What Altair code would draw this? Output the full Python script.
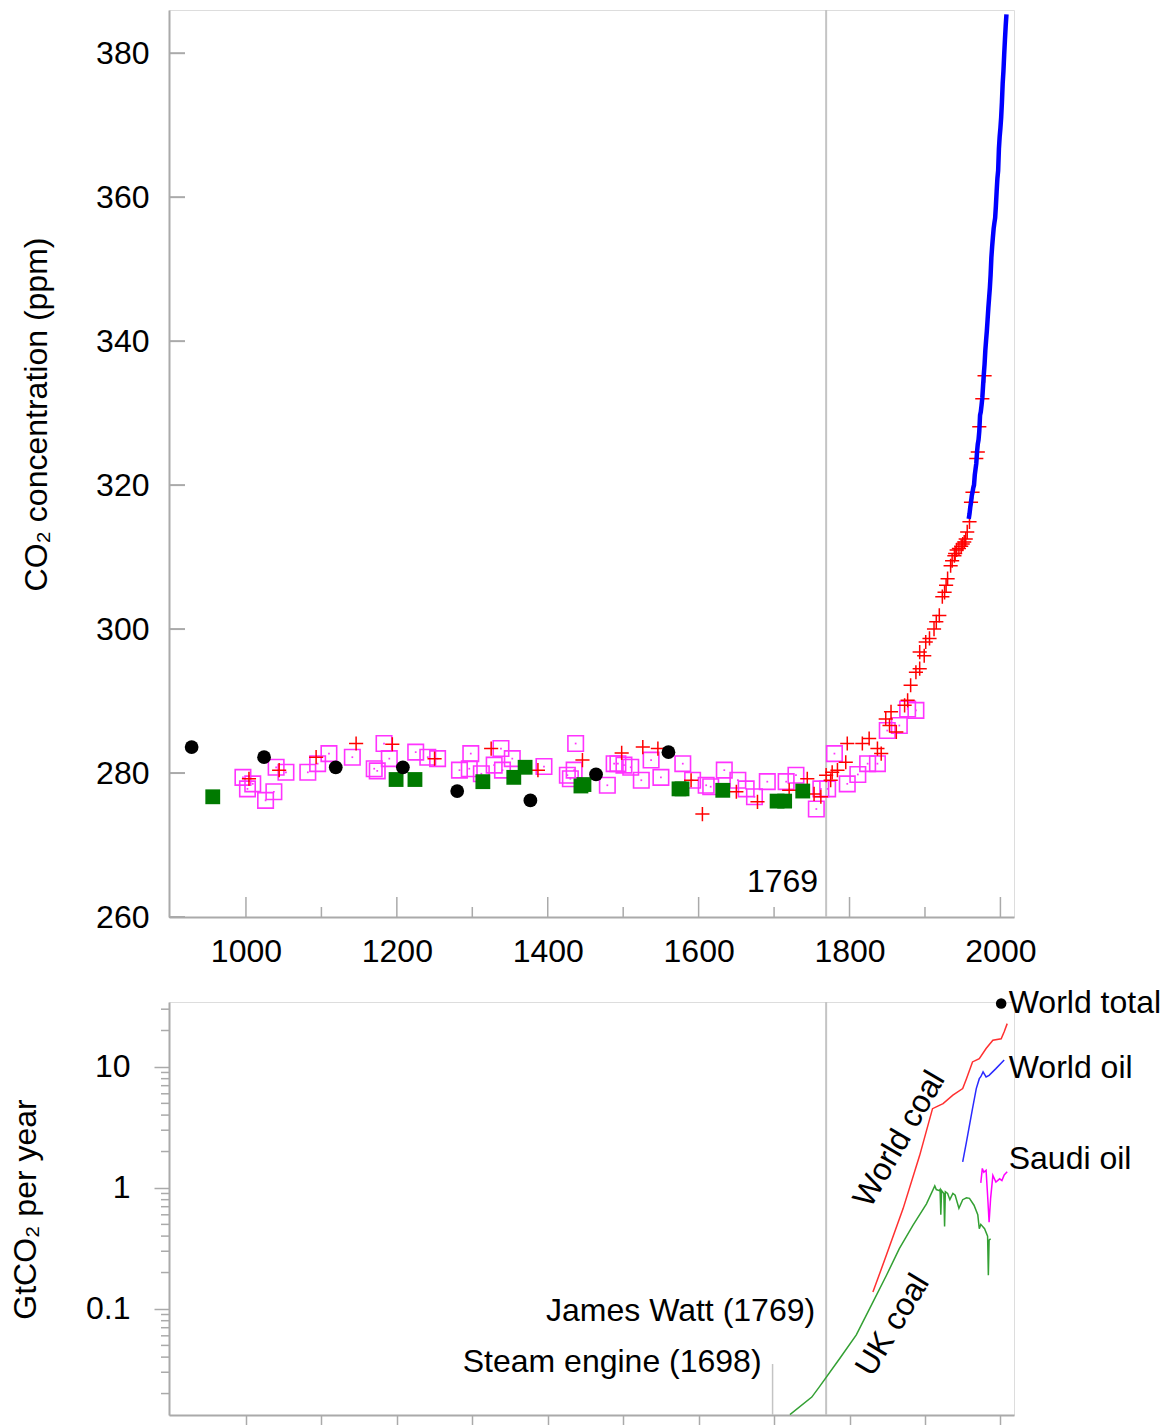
import altair as alt
import pandas as pd

FONT = "Liberation Sans"
AX = "#aaaaaa"
FS = 32

# ---------------- Top panel: CO2 concentration (ppm) ----------------
dome_years = [928, 1024, 1119, 1208, 1280, 1377, 1464, 1560]
dome_ppm = [283.6, 282.2, 280.8, 280.8, 277.5, 276.2, 279.8, 282.9]

green_years = [956, 1199, 1224, 1314, 1355, 1370, 1444, 1448, 1574, 1578, 1632, 1704, 1714, 1738]
green_ppm = [276.7, 279.1, 279.1, 278.8, 279.4, 280.8, 278.2, 278.4, 277.8, 277.8, 277.6, 276.1, 276.1, 277.5]

mag_years = [996, 1002, 1009, 1026, 1037, 1040, 1053, 1082, 1095, 1110, 1141, 1170, 1174, 1183, 1190,
             1225, 1241, 1254, 1283, 1296, 1298, 1312, 1329, 1338, 1340, 1353, 1395, 1426, 1430, 1435,
             1437, 1479, 1488, 1493, 1501, 1510, 1524, 1537, 1550, 1579, 1592, 1610, 1616, 1634, 1652,
             1663, 1674, 1691, 1716, 1729, 1756, 1762, 1771, 1780, 1797, 1811, 1824, 1837, 1850, 1866,
             1877, 1888]
mag_ppm = [279.4, 277.8, 278.5, 276.2, 277.4, 280.8, 280.1, 280.1, 281.3, 282.7, 282.2, 280.6, 280.3, 284.1, 282.0,
           282.9, 282.2, 282.0, 280.4, 280.6, 282.7, 279.9, 281.1, 283.4, 280.4, 282.0, 280.9, 279.7, 279.2, 280.4,
           284.1, 278.3, 281.3, 281.3, 281.1, 280.8, 279.0, 281.8, 279.4, 281.3, 279.0, 278.3, 278.1, 280.4, 279.0,
           277.8, 276.7, 278.8, 278.8, 279.7, 275.0, 277.8, 277.8, 282.7, 278.5, 279.8, 281.3, 281.3, 285.9, 286.6,
           288.9, 288.7]

red_years = [1004, 1044, 1093, 1146, 1194, 1250, 1325, 1387, 1446, 1498, 1526, 1546, 1590, 1605, 1650,
             1678, 1720, 1744, 1753, 1762, 1769, 1775, 1777, 1784, 1795, 1797, 1817, 1826, 1837, 1842,
             1848, 1853, 1855, 1862, 1873, 1877, 1881, 1888, 1893, 1893, 1899, 1901, 1906, 1912, 1915,
             1919, 1923, 1926, 1928, 1930, 1934, 1936, 1939, 1940, 1942, 1945, 1948, 1950, 1952, 1954,
             1956, 1959, 1961, 1963, 1968, 1970, 1972, 1976, 1979]
red_ppm = [279.2, 280.4, 282.2, 284.1, 284.0, 282.0, 283.4, 280.4, 281.8, 282.8, 283.6, 283.4, 279.0, 274.3, 277.4,
           276.0, 277.6, 279.2, 277.1, 276.7, 279.7, 279.0, 280.1, 280.4, 281.5, 284.1, 284.1, 284.8, 283.4, 282.7,
           287.5, 286.6, 288.5, 285.7, 289.4, 290.1, 292.2, 294.0, 294.5, 296.8, 296.3, 298.2, 298.7, 300.0, 301.0,
           301.9, 304.5, 305.1, 306.1, 307.0, 308.8, 309.5, 310.2, 310.5, 311.0, 311.2, 311.5, 311.8, 312.1, 312.5,
           313.5, 314.9, 317.6, 319.0, 323.7, 324.6, 328.1, 332.0, 335.2]

mlo_years = [1958, 1959, 1960, 1961, 1962, 1963, 1964, 1965, 1966, 1967,
             1968, 1969, 1970, 1971, 1972, 1973, 1974, 1975, 1976, 1977,
             1978, 1979, 1980, 1981, 1982, 1983, 1984, 1985, 1986, 1987,
             1988, 1989, 1990, 1991, 1992, 1993, 1994, 1995, 1996, 1997,
             1998, 1999, 2000, 2001, 2002, 2003, 2004, 2005, 2006, 2007, 2008]
mlo_ppm = [315.3, 316.0, 316.9, 317.6, 318.5, 319.0, 319.6, 320.0, 321.4, 322.2,
           323.0, 324.6, 325.7, 326.3, 327.5, 329.7, 330.2, 331.1, 332.1, 333.8,
           335.4, 336.8, 338.7, 340.1, 341.4, 343.0, 344.6, 346.0, 347.4, 349.2,
           351.6, 353.1, 354.4, 355.6, 356.4, 357.1, 358.8, 360.8, 362.6, 363.7,
           366.7, 368.4, 369.6, 371.1, 373.2, 375.8, 377.5, 379.8, 381.9, 383.8, 385.4]

top_xticks_major = [1000, 1200, 1400, 1600, 1800, 2000]
top_xticks_minor = [1100, 1300, 1500, 1700, 1900]
top_yticks = [260, 280, 300, 320, 340, 360, 380]
watt_year = [1769]
top_note_text = ["1769"]
top_note_ppm = [264.9]

# ---------------- Bottom panel: GtCO2 per year (log) ----------------
uk_years = [1721, 1750, 1760, 1787, 1809, 1831, 1849, 1866, 1884, 1902, 1913, 1915, 1919, 1920, 1921,
            1922, 1925, 1926, 1927, 1930, 1933, 1937, 1940, 1945, 1950, 1955, 1959, 1965, 1970, 1972,
            1974, 1979, 1983, 1984, 1985, 1987]
uk_val = [0.0134, 0.0187, 0.0227, 0.039, 0.061, 0.114, 0.19, 0.315, 0.49, 0.74, 1.04, 0.97, 0.95, 0.97, 0.60,
          0.95, 0.90, 0.48, 0.93, 0.90, 0.80, 0.90, 0.87, 0.68, 0.80, 0.83, 0.82, 0.72, 0.60, 0.46,
          0.50, 0.46, 0.40, 0.19, 0.37, 0.38]

wcoal_years = [1831, 1849, 1871, 1893, 1910, 1917, 1924, 1937, 1950, 1955, 1963, 1972, 1981, 1990, 2001, 2005, 2009]
wcoal_val = [0.138, 0.28, 0.675, 1.86, 4.52, 4.75, 4.97, 5.84, 6.62, 8.0, 11.0, 11.7, 14.2, 16.6, 17.1, 19.5, 22.8]

woil_years = [1950, 1955, 1963, 1968, 1972, 1974, 1977, 1981, 1985, 1994, 2005]
woil_val = [1.64, 2.4, 4.52, 6.62, 8.0, 8.3, 9.1, 8.27, 8.52, 9.68, 11.4]

saudi_years = [1974, 1976, 1978, 1981, 1983, 1985, 1987, 1990, 1994, 1999, 2002, 2005, 2009]
saudi_val = [1.1, 1.45, 1.35, 1.4, 0.87, 0.52, 0.82, 1.27, 1.12, 1.19, 1.15, 1.28, 1.36]

total_year = [2001]
total_val = [33.4]

bot_minor_ticks = [0.02, 0.03, 0.04, 0.05, 0.06, 0.07, 0.08, 0.09,
                   0.2, 0.3, 0.4, 0.5, 0.6, 0.7, 0.8, 0.9,
                   2, 3, 4, 5, 6, 7, 8, 9, 20, 30]
bot_xticks = [1000, 1100, 1200, 1300, 1400, 1500, 1600, 1700, 1800, 1900, 2000]

right_labels = ["World total", "World oil", "Saudi oil"]
right_label_year = [2011, 2011, 2011]
right_label_val = [33.8, 9.8, 1.74]

rot_labels = ["World coal", "UK coal"]
rot_label_year = [1866, 1857]
rot_label_val = [2.54, 0.0738]
rot_label_angle = [300, 301]

event_labels = ["James Watt (1769)", "Steam engine (1698)"]
event_year = [1769, 1698]
event_val = [0.0962, 0.0365]
steam_year = [1698]
steam_top = [0.0351]

# ---------------- layout numbers ----------------
W = 845
H1 = 907
H2 = 413
XDOM = [898, 2018]

xscale = alt.Scale(domain=XDOM, nice=False, zero=False)

top_xaxis = alt.Axis(values=top_xticks_major, format="d", ticks=False, tickSize=0, labelPadding=19,
                     labelFontSize=FS, labelFont=FONT, labelColor="black", domainColor=AX,
                     domainWidth=2, grid=False, title=None, labelFlush=False)
top_yaxis = alt.Axis(values=top_yticks, ticks=False, tickSize=0, labelPadding=20, labelFontSize=FS,
                     labelFont=FONT, labelColor="black", domainColor=AX, domainWidth=2, grid=False,
                     title="CO₂ concentration (ppm)", titleFont=FONT, titleFontSize=FS,
                     titleFontWeight="normal", titleColor="black", titleAngle=270,
                     titleAlign="center", titleBaseline="alphabetic", titleX=-123, titleY=404)
yscale_top = alt.Scale(domain=[260, 386], nice=False, zero=False)


def XT():
    return alt.X("year:Q", scale=xscale, axis=top_xaxis)


def YT():
    return alt.Y("ppm:Q", scale=yscale_top, axis=top_yaxis)


df_dome = pd.DataFrame({"year": dome_years, "ppm": dome_ppm})
df_green = pd.DataFrame({"year": green_years, "ppm": green_ppm})
df_mag = pd.DataFrame({"year": mag_years, "ppm": mag_ppm})
df_red = pd.DataFrame({"year": red_years, "ppm": red_ppm})
df_mlo = pd.DataFrame({"year": mlo_years, "ppm": mlo_ppm})

plus_path = "M-1,0L1,0M0,-1L0,1"

l_vline = alt.Chart(pd.DataFrame({"year": watt_year})).mark_rule(color="#c4c4c4", strokeWidth=2).encode(
    x=XT(), y=alt.value(0), y2=alt.value(H1))
l_xmaj = alt.Chart(pd.DataFrame({"year": top_xticks_major})).mark_rule(color=AX, strokeWidth=1.5).encode(
    x=XT(), y=alt.value(H1 - 20), y2=alt.value(H1))
l_xmin = alt.Chart(pd.DataFrame({"year": top_xticks_minor})).mark_rule(color=AX, strokeWidth=1.5).encode(
    x=XT(), y=alt.value(H1 - 10), y2=alt.value(H1))
l_ytick = alt.Chart(pd.DataFrame({"ppm": top_yticks})).mark_rule(color=AX, strokeWidth=2).encode(
    y=YT(), x=alt.value(0), x2=alt.value(16))
l_mag = alt.Chart(df_mag).mark_point(shape="square", filled=False, color="#ff33ff", size=240,
                                     strokeWidth=1.6, opacity=1).encode(x=XT(), y=YT())
l_magdot = alt.Chart(df_mag).mark_point(shape="square", filled=True, color="#ff33ff", size=3,
                                        opacity=1).encode(x=XT(), y=YT())
l_red = alt.Chart(df_red).mark_point(shape=plus_path, filled=False, color="#ff0000", size=200,
                                     strokeWidth=1.5, opacity=1).encode(x=XT(), y=YT())
l_green = alt.Chart(df_green).mark_point(shape="square", filled=True, color="#007a00", size=220,
                                         opacity=1).encode(x=XT(), y=YT())
l_dome = alt.Chart(df_dome).mark_point(shape="circle", filled=True, color="black", size=190,
                                       opacity=1).encode(x=XT(), y=YT())
l_mlo = alt.Chart(df_mlo).mark_line(color="#0000ff", strokeWidth=4.5, strokeJoin="round",
                                    clip=True).encode(x=XT(), y=YT())
l_note = alt.Chart(pd.DataFrame({"year": watt_year, "ppm": top_note_ppm, "t": top_note_text})).mark_text(
    align="right", baseline="middle", dx=-8, font=FONT, fontSize=FS, color="black").encode(
    x=XT(), y=YT(), text="t:N")

top = alt.layer(l_vline, l_xmaj, l_xmin, l_ytick, l_mag, l_magdot, l_red, l_green, l_dome, l_mlo,
                l_note).properties(width=W, height=H1)

# ---------------- bottom ----------------
bot_xaxis = alt.Axis(values=bot_xticks, labels=False, ticks=True, tickSize=12, tickColor=AX, tickWidth=1.5,
                     domainColor=AX, domainWidth=2, grid=False, title=None)
bot_yaxis = alt.Axis(values=[0.1, 1, 10], format="~g", ticks=True, tickSize=15, tickColor=AX, tickWidth=1.5,
                     labelPadding=24, labelFontSize=FS, labelFont=FONT, labelColor="black",
                     domainColor=AX, domainWidth=2, grid=False,
                     title="GtCO₂ per year", titleFont=FONT, titleFontSize=FS, titleFontWeight="normal",
                     titleColor="black", titleAngle=270, titleAlign="center", titleBaseline="alphabetic",
                     titleX=-134, titleY=207)
yscale_bot = alt.Scale(type="log", domain=[0.0133, 34.4], nice=False)


def XB():
    return alt.X("year:Q", scale=xscale, axis=bot_xaxis)


def YB():
    return alt.Y("val:Q", scale=yscale_bot, axis=bot_yaxis)


b_vline = alt.Chart(pd.DataFrame({"year": watt_year})).mark_rule(color="#c4c4c4", strokeWidth=2).encode(
    x=XB(), y=alt.value(0), y2=alt.value(H2))
b_steam = alt.Chart(pd.DataFrame({"year": steam_year, "val": steam_top})).mark_rule(
    color="#c4c4c4", strokeWidth=1.5).encode(x=XB(), y=YB(), y2=alt.value(H2))
b_minor = alt.Chart(pd.DataFrame({"val": bot_minor_ticks})).mark_rule(color=AX, strokeWidth=1.5).encode(
    y=YB(), x=alt.value(-8), x2=alt.value(0))
b_uk = alt.Chart(pd.DataFrame({"year": uk_years, "val": uk_val})).mark_line(
    color="#33a033", strokeWidth=1.5, clip=True).encode(x=XB(), y=YB())
b_wcoal = alt.Chart(pd.DataFrame({"year": wcoal_years, "val": wcoal_val})).mark_line(
    color="#ff3030", strokeWidth=1.5).encode(x=XB(), y=YB())
b_woil = alt.Chart(pd.DataFrame({"year": woil_years, "val": woil_val})).mark_line(
    color="#2a2aff", strokeWidth=1.5).encode(x=XB(), y=YB())
b_saudi = alt.Chart(pd.DataFrame({"year": saudi_years, "val": saudi_val})).mark_line(
    color="#ff00ff", strokeWidth=1.5).encode(x=XB(), y=YB())
b_total = alt.Chart(pd.DataFrame({"year": total_year, "val": total_val})).mark_point(
    shape="circle", filled=True, color="black", size=110, opacity=1).encode(x=XB(), y=YB())
b_rlabels = alt.Chart(pd.DataFrame({"year": right_label_year, "val": right_label_val, "t": right_labels})).mark_text(
    align="left", baseline="middle", font=FONT, fontSize=FS, color="black").encode(
    x=XB(), y=YB(), text="t:N")
b_rot1 = alt.Chart(pd.DataFrame({"year": rot_label_year[:1], "val": rot_label_val[:1], "t": rot_labels[:1]})).mark_text(
    align="center", baseline="middle", angle=rot_label_angle[0], font=FONT, fontSize=FS, color="black").encode(
    x=XB(), y=YB(), text="t:N")
b_rot2 = alt.Chart(pd.DataFrame({"year": rot_label_year[1:], "val": rot_label_val[1:], "t": rot_labels[1:]})).mark_text(
    align="center", baseline="middle", angle=rot_label_angle[1], font=FONT, fontSize=FS, color="black").encode(
    x=XB(), y=YB(), text="t:N")
b_events = alt.Chart(pd.DataFrame({"year": event_year, "val": event_val, "t": event_labels})).mark_text(
    align="right", baseline="middle", dx=-11, font=FONT, fontSize=FS, color="black").encode(
    x=XB(), y=YB(), text="t:N")

bottom = alt.layer(b_vline, b_steam, b_minor, b_uk, b_wcoal, b_woil, b_saudi, b_total, b_rlabels,
                   b_rot1, b_rot2, b_events).properties(width=W, height=H2)

chart = alt.vconcat(top, bottom, spacing=85, bounds="flush", padding=0).configure_view(
    stroke=None).configure(font=FONT, padding=0)

chart.save("out.html", embed_options={"renderer": "svg", "actions": False, "padding": 0})
